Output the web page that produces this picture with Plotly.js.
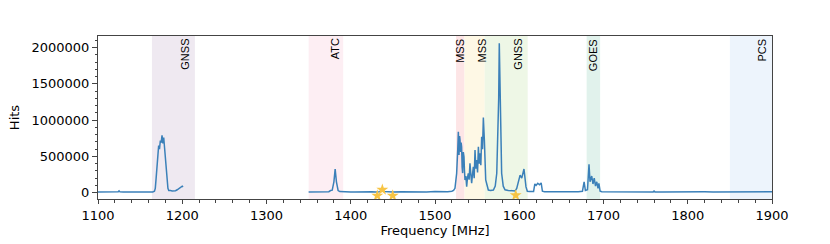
<!DOCTYPE html>
<html>
<head>
<meta charset="utf-8">
<script src="https://cdn.plot.ly/plotly-3.0.1.min.js"></script>
<style>html,body{margin:0;padding:0;background:#fff;}#chart{width:830px;height:244px;}</style>
</head>
<body>
<div id="chart"></div>
<script>
// Spectrum segment 1 (1100-1201 MHz)
const freq1 = [1100,1104,1108,1112,1116,1120,1124,1125,1126,1130,1134,1138,1142,1146,1150,1154,1158,1162,1165,1167,1168,1169,1170,1171,1172,1173,1174,1175,1176,1177,1178,1179,1180,1181,1182,1183,1184,1185,1186,1188,1190,1192,1194,1196,1198,1200,1201];
const hits1 = [10000,12000,8000,11000,9000,10000,12000,25000,11000,9000,12000,10000,8000,11000,10000,9000,12000,10000,11000,20000,60000,200000,380000,560000,650000,600000,720000,690000,790000,680000,760000,620000,450000,300000,150000,60000,30000,25000,30000,25000,22000,28000,40000,60000,75000,90000,80000];

// Spectrum segment 2 (1350-1900 MHz)
const freq2 = [1350,1355,1360,1365,1370,1374,1376,1378,1380,1381.5,1383,1385,1387,1390,1395,1400,1405,1410,1415,1420,1425,1430,1434,1437,1438,1440,1444,1450,1460,1470,1480,1490,1500,1505,1510,1515,1520,1522,
 1523.7,1525.7,1527,1527.7,1528.5,1529.2,1529.7,1530.5,1531,1531.6,1532.2,1532.8,1533.6,1534.4,1535,1535.6,1536.6,1537.6,1538.5,1539.5,1540.5,1541.5,1542.5,1543.5,1544.5,1545.5,1546.5,1547.5,1548.5,1549.5,1550.5,1551.5,1552.5,1553.4,1554.4,1555.4,1556.4,1557.4,1558.6,1560.2,1563.3,1566,1569.3,1571.5,1573.3,1575,1575.6,1576.3,1577.5,1578.3,1579.1,1581,1583.1,1587,1591,1595,1597,1599,1601,1603,1605.6,1608,1609.6,1612,1615,1617,1618.5,1620,1622,1624,1626,1627.5,1630,1640,1650,1660,1670,1675,
 1677,1678.5,1681,1682.8,1684,1686,1687.5,1689,1690.5,1692,1693.5,1694.5,1696,1698,1705,1715,1725,1735,1745,1755,1759,1760,1761,1770,1780,1790,1800,1810,1820,1830,1840,1850,1860,1870,1880,1890,1900];
const hits2 = [10000,11000,9000,12000,10000,14000,30000,35000,150000,326000,150000,30000,15000,12000,10000,11000,9000,12000,10000,11000,12000,10000,14000,30000,32000,15000,11000,10000,12000,9000,11000,10000,15000,12000,11000,14000,20000,30000,
 60000,267000,600000,840000,520000,780000,725000,560000,690000,633000,350000,270000,560000,495000,300000,175000,230000,83000,200000,267000,180000,404000,260000,130000,250000,358000,200000,587000,330000,450000,280000,633000,400000,542000,380000,770000,600000,1037000,725000,175000,37000,30000,37000,90000,267000,900000,1300000,2060000,1200000,700000,267000,90000,40000,30000,28000,25000,60000,175000,243000,200000,326000,80000,20000,15000,14000,15000,120000,100000,130000,110000,135000,20000,14000,12000,11000,12000,13000,20000,
 150000,30000,40000,390000,150000,230000,120000,200000,90000,150000,60000,130000,20000,12000,11000,10000,12000,11000,10000,12000,11000,22000,11000,10000,12000,10000,11000,9000,12000,10000,11000,10000,12000,10000,11000,10000,12000];

// Markers (stars)
const starFreq = [1431.5,1437.5,1449.8,1595.8];
const starHits = [-41000,41000,-41000,-35000];

// Allocation bands
const bandNames = ['GNSS','ATC','MSS','MSS','GNSS','GOES','PCS'];
const bandStart = [1164,1350,1525,1535,1559,1680,1850];
const bandEnd   = [1215,1391,1535,1559,1610,1696,1900];
const bandLabelAt = [1203.7,1381.3,1529.7,1555.4,1598.9,1687.9,1888.5];
const bandColors = ['#efe9f1','#fdeef3','#fde5e6','#fef8e5','#eef7e6','#e1f2ec','#edf4fc'];

const freq = freq1.concat([null], freq2);
const hits = hits1.concat([null], hits2);

const traces = [
  {x: freq, y: hits, type: 'scatter', mode: 'lines', connectgaps: false,
   line: {color: '#3b80b9', width: 1.5}, hoverinfo: 'skip', showlegend: false},
  {x: starFreq, y: starHits, type: 'scatter', mode: 'markers',
   marker: {symbol: 'star', size: 9, color: '#f7c444', line: {width: 0}}, showlegend: false}
];

const shapes = bandNames.map((n, i) => ({
  type: 'rect', xref: 'x', yref: 'paper', x0: bandStart[i], x1: bandEnd[i], y0: 0, y1: 1,
  fillcolor: bandColors[i], line: {width: 0}, layer: 'below'
}));

const annotations = bandNames.map((n, i) => ({
  x: bandLabelAt[i], y: 0.995, xref: 'x', yref: 'paper', text: n, showarrow: false,
  textangle: -90, xanchor: 'center', yanchor: 'top',
  font: {family: 'Liberation Sans, Arial, sans-serif', size: 11, color: '#000'}
}));

const axisCommon = {
  showline: true, linecolor: '#444', linewidth: 1, mirror: true,
  ticks: 'outside', ticklen: 5, tickwidth: 1, tickcolor: '#444',
  showgrid: false, zeroline: false,
  tickfont: {family: 'DejaVu Sans', size: 13, color: '#000'}
};

const layout = {
  width: 830, height: 244,
  margin: {l: 98, r: 58, t: 36, b: 45},
  paper_bgcolor: '#fff', plot_bgcolor: '#fff',
  showlegend: false,
  xaxis: Object.assign({}, axisCommon, {
    range: [1100, 1900], dtick: 100, tick0: 1100, ticklen: 4,
    minor: {dtick: 20, ticks: 'outside', ticklen: 2.5, tickcolor: '#444', showgrid: false},
    title: {text: 'Frequency [MHz]', standoff: 2, font: {family: 'DejaVu Sans', size: 13, color: '#000'}}
  }),
  yaxis: Object.assign({}, axisCommon, {
    range: [-87000, 2160000], dtick: 500000, tick0: 0, tickformat: 'd',
    minor: {dtick: 100000, ticks: 'outside', ticklen: 2.5, tickcolor: '#444', showgrid: false},
    title: {text: 'Hits', standoff: 8, font: {family: 'DejaVu Sans', size: 13, color: '#000'}}
  }),
  shapes: shapes,
  annotations: annotations
};

Plotly.newPlot('chart', traces, layout, {displayModeBar: false, staticPlot: true});
</script>
</body>
</html>
